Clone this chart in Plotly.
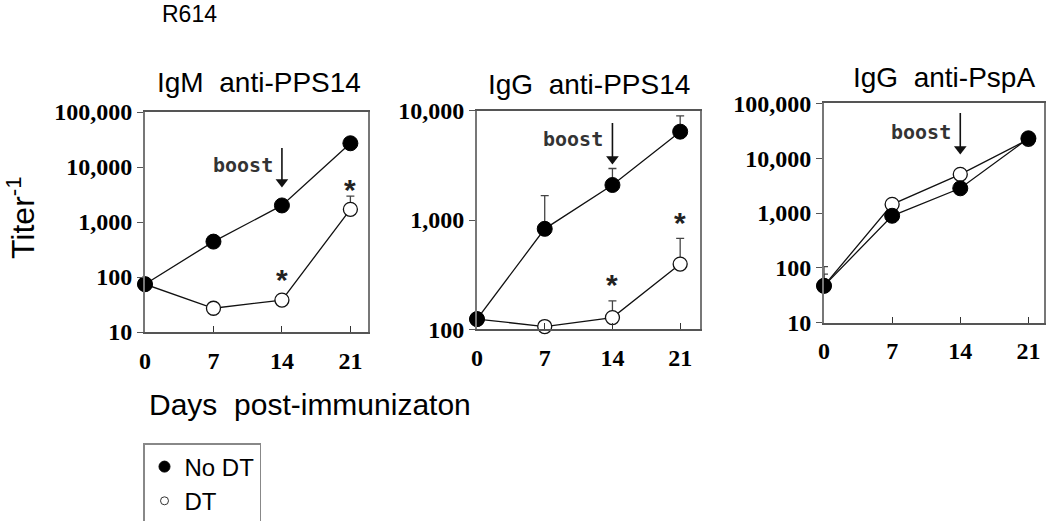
import plotly.graph_objects as go

days = [0, 7, 14, 21]
day_ticks = ["0", "7", "14", "21"]

# Panel 1: IgM anti-PPS14
igm_pps14_nodt = [74, 440, 2000, 27000]
igm_pps14_dt = [74, 27, 38, 1700]
igm_pps14_nodt_err = [0, 0, 0, 0]
igm_pps14_dt_err = [0, 0, 0, 1250]

# Panel 2: IgG anti-PPS14
igg_pps14_nodt = [124, 830, 2090, 6430]
igg_pps14_dt = [124, 106, 128, 395]
igg_pps14_nodt_err = [0, 840, 870, 2520]
igg_pps14_dt_err = [0, 0, 54, 285]

# Panel 3: IgG anti-PspA
igg_pspa_nodt = [47, 890, 2820, 23000]
igg_pspa_dt = [47, 1440, 5070, 22000]
igg_pspa_nodt_err = [30, 0, 0, 0]
igg_pspa_dt_err = [58, 0, 0, 0]

# boost marker: day and arrow head / tail titers per panel
boost_day = 14
boost_head = [5330, 3610, 14700]
boost_tail = [22100, 7700, 66500]

titles = ["IgM\u00a0 anti-PPS14", "IgG\u00a0 anti-PPS14", "IgG\u00a0 anti-PspA"]
ytick_vals_5 = [10, 100, 1000, 10000, 100000]
ytick_text_5 = ["10", "100", "1,000", "10,000", "100,000"]
ytick_vals_3 = [100, 1000, 10000]
ytick_text_3 = ["100", "1,000", "10,000"]

W, H = 1050, 521


def px_x(a, b):
    return [a / W, b / W]


def px_y(top, bottom):
    return [1 - bottom / H, 1 - top / H]


fig = go.Figure()

panels = [
    dict(nodt=igm_pps14_nodt, dt=igm_pps14_dt, ne=igm_pps14_nodt_err, de=igm_pps14_dt_err, xa="x", ya="y"),
    dict(nodt=igg_pps14_nodt, dt=igg_pps14_dt, ne=igg_pps14_nodt_err, de=igg_pps14_dt_err, xa="x2", ya="y2"),
    dict(nodt=igg_pspa_nodt, dt=igg_pspa_dt, ne=igg_pspa_nodt_err, de=igg_pspa_dt_err, xa="x3", ya="y3"),
]

err_style = dict(type="data", symmetric=False, color="#444", thickness=1.3, width=4)

for p in panels:
    fig.add_trace(go.Scatter(
        x=days, y=p["dt"], mode="lines+markers", xaxis=p["xa"], yaxis=p["ya"],
        line=dict(color="#111", width=1.3),
        marker=dict(symbol="circle", size=14, color="white", line=dict(color="#111", width=1.3)),
        error_y=dict(array=p["de"], arrayminus=[0] * 4, **err_style),
        cliponaxis=False, showlegend=False))
    fig.add_trace(go.Scatter(
        x=days, y=p["nodt"], mode="lines+markers", xaxis=p["xa"], yaxis=p["ya"],
        line=dict(color="#111", width=1.3),
        marker=dict(symbol="circle", size=15, color="black", line=dict(color="black", width=1)),
        error_y=dict(array=p["ne"], arrayminus=[0] * 4, **err_style),
        cliponaxis=False, showlegend=False))

# boost arrows: shaft (line) + head (triangle marker)
for i, p in enumerate(panels):
    fig.add_trace(go.Scatter(
        x=[boost_day, boost_day], y=[boost_tail[i], boost_head[i]], mode="lines",
        xaxis=p["xa"], yaxis=p["ya"], line=dict(color="#111", width=1.6),
        showlegend=False, hoverinfo="skip"))
    fig.add_trace(go.Scatter(
        x=[boost_day], y=[boost_head[i]], mode="markers", xaxis=p["xa"], yaxis=p["ya"],
        marker=dict(symbol="triangle-down", size=11, color="#111", line=dict(width=0)),
        showlegend=False, hoverinfo="skip", cliponaxis=False))

# legend entries
fig.add_trace(go.Scatter(x=[None], y=[None], mode="markers", name="No DT",
                         marker=dict(size=11, color="black", line=dict(color="black", width=1))))
fig.add_trace(go.Scatter(x=[None], y=[None], mode="markers", name="DT",
                         marker=dict(size=8, color="white", line=dict(color="#333", width=1))))

tickfont = dict(family="Liberation Serif", size=24, color="black", weight="bold")
x_common = dict(range=[0, 22.8], tickvals=days, ticktext=day_ticks, ticks="inside", ticklen=6,
                tickcolor="#333", showline=True, linecolor="#555", linewidth=1.8, mirror=True,
                showgrid=False, zeroline=False, tickfont=tickfont, ticklabelstandoff=6)
y_common = dict(type="log", ticks="outside", ticklen=6, tickcolor="#555", showline=True,
                linecolor="#777", linewidth=2, mirror=True, showgrid=False, zeroline=False,
                tickfont=tickfont)

fig.update_layout(
    width=W, height=H, margin=dict(l=0, r=0, t=0, b=0, pad=0, autoexpand=False),
    paper_bgcolor="white", plot_bgcolor="white",
    xaxis=dict(domain=px_x(145, 368), anchor="y", **x_common),
    yaxis=dict(domain=px_y(112, 332), anchor="x", range=[1, 5], tickvals=ytick_vals_5,
               ticktext=ytick_text_5, **y_common),
    xaxis2=dict(domain=px_x(477, 700), anchor="y2", **{**x_common, "range": [0, 23.05]}),
    yaxis2=dict(domain=px_y(110.7, 329.3), anchor="x2", range=[2, 4], tickvals=ytick_vals_3,
                ticktext=ytick_text_3, **y_common),
    xaxis3=dict(domain=px_x(824, 1044), anchor="y3", **{**x_common, "range": [0, 22.6]}),
    yaxis3=dict(domain=px_y(103.3, 322.7), anchor="x3", range=[1, 5], tickvals=ytick_vals_5,
                ticktext=ytick_text_5, **y_common),
    legend=dict(x=143 / W, y=1 - 443 / H, xanchor="left", yanchor="top",
                bordercolor="#888", borderwidth=1.5, bgcolor="white",
                font=dict(family="Liberation Sans", size=24, color="black"),
                itemsizing="trace", tracegroupgap=0),
)

ann = []
title_pos = [(259, 83), (589, 84), (944, 77)]
for t, (cx, cy) in zip(titles, title_pos):
    ann.append(dict(text=t, x=cx / W, y=1 - cy / H, xref="paper", yref="paper", showarrow=False,
                    xanchor="center", yanchor="middle",
                    font=dict(family="Liberation Sans", size=28, color="black")))

ann.append(dict(text="R614", x=160 / W, y=1 - 14 / H, xref="paper", yref="paper", showarrow=False,
                xanchor="left", yanchor="middle", font=dict(family="Liberation Sans", size=23, color="black")))
ann.append(dict(text="Days\u00a0 post-immunizaton", x=310 / W, y=1 - 404 / H, xref="paper", yref="paper",
                showarrow=False, xanchor="center", yanchor="middle",
                font=dict(family="Liberation Sans", size=30, color="black")))
ann.append(dict(text="Titer<sup>-1</sup>", x=21 / W, y=1 - 218 / H, xref="paper", yref="paper",
                showarrow=False, textangle=-90, xanchor="center", yanchor="middle",
                font=dict(family="Liberation Sans", size=32, color="black")))

# boost labels (text just left of the arrow)
for i, p in enumerate(panels):
    ann.append(dict(text="boost", x=boost_day, y=[4.036, 3.741, 4.477][i], xref=p["xa"], yref=p["ya"],
                    showarrow=False, xanchor="right", yanchor="middle", xshift=-7,
                    font=dict(family="DejaVu Sans Mono", size=20, color="#333", weight="bold")))

# significance asterisks: (xaxis, yaxis, x, y(log))
stars = [("x", "y", 14, 2.036), ("x", "y", 21, 3.655), ("x2", "y2", 14, 2.445), ("x2", "y2", 21, 3.012)]
for xa, ya, sx, sy in stars:
    ann.append(dict(text="*", x=sx, y=sy, xref=xa, yref=ya, showarrow=False, xanchor="center",
                    yanchor="middle", yshift=-4,
                    font=dict(family="Liberation Sans", size=30, color="#222", weight="bold")))

fig.update_layout(annotations=ann)

fig.write_html("out.html", config={"displayModeBar": False},
               post_script="document.body.style.margin='0';document.body.style.overflow='hidden';")
